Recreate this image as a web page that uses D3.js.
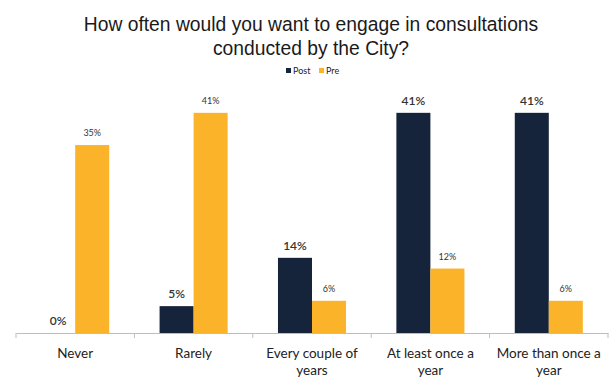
<!DOCTYPE html>
<html>
<head>
<meta charset="utf-8">
<script src="https://cdn.jsdelivr.net/npm/d3@7/dist/d3.min.js"></script>
<style>
  html, body { margin: 0; padding: 0; background: #fff; }
  svg { display: block; }
</style>
</head>
<body>
<svg id="chart" width="613" height="383"></svg>
<script>
// Survey responses: preferred frequency of engagement, before and after
const categories = [
  ["Never"],
  ["Rarely"],
  ["Every couple of", "years"],
  ["At least once a", "year"],
  ["More than once a", "year"]
];
const seriesNames = ["Post", "Pre"];
const postValues = [0, 5, 14, 41, 41];
const preValues = [35, 41, 6, 12, 6];
const colors = ["#15243b", "#fbb42a"];

const width = 613, height = 383;
const margin = { left: 16, right: 5 };
const baseY = 333;

const svg = d3.select("#chart");

const x0 = d3.scaleBand()
  .domain(d3.range(categories.length))
  .range([margin.left, width - margin.right])
  .paddingInner(0)
  .paddingOuter(0);

const x1 = d3.scaleBand()
  .domain(seriesNames)
  .range([0, x0.bandwidth()])
  .paddingInner(0)
  .paddingOuter(0.74);

const y = d3.scaleLinear()
  .domain([0, 45])
  .range([baseY, baseY - 45 * 5.37]);

const seriesValues = { Post: postValues, Pre: preValues };
const colorOf = d3.scaleOrdinal().domain(seriesNames).range(colors);

// Title
const title = svg.append("text")
  .attr("text-anchor", "middle")
  .attr("font-family", "Liberation Sans, Arial, sans-serif")
  .attr("font-size", 19.3)
  .attr("fill", "#1a1a1a");
title.append("tspan").attr("x", 311).attr("y", 31)
  .text("How often would you want to engage in consultations");
title.append("tspan").attr("x", 311).attr("y", 55)
  .text("conducted by the City?");

// Legend
const legend = svg.append("g")
  .attr("font-family", "Lato, 'Open Sans', sans-serif")
  .attr("font-size", 9)
  .attr("fill", "#222");
const legendItems = [{ name: "Post", x: 286 }, { name: "Pre", x: 319 }];
legendItems.forEach(d => {
  legend.append("rect")
    .attr("x", d.x).attr("y", 68)
    .attr("width", 5).attr("height", 5)
    .attr("fill", colorOf(d.name));
  legend.append("text")
    .attr("x", d.x + 7).attr("y", 74)
    .text(d.name);
});

// Bars
const groups = svg.append("g")
  .selectAll("g")
  .data(categories.map((c, i) => i))
  .join("g")
  .attr("transform", i => `translate(${x0(i)},0)`);

groups.selectAll("rect")
  .data(i => seriesNames.map(s => ({ s, v: seriesValues[s][i] })))
  .join("rect")
  .attr("x", d => x1(d.s))
  .attr("width", x1.bandwidth())
  .attr("y", d => y(d.v))
  .attr("height", d => baseY - y(d.v))
  .attr("fill", d => colorOf(d.s));

// Value labels
groups.selectAll("text.value")
  .data(i => seriesNames.map(s => ({ s, v: seriesValues[s][i] })))
  .join("text")
  .attr("class", "value")
  .attr("x", d => x1(d.s) + x1.bandwidth() / 2)
  .attr("y", d => y(d.v) - (d.s === "Post" ? 8 : 9))
  .attr("text-anchor", "middle")
  .attr("font-family", "Lato, 'Open Sans', sans-serif")
  .attr("font-size", d => d.s === "Post" ? 12 : 9)
  .attr("font-weight", d => d.s === "Post" ? 600 : 400)
  .attr("fill", "#333")
  .text(d => d.v + "%");

// Category axis
const axis = d3.axisBottom(x0)
  .tickSize(0)
  .tickFormat("");
const axisG = svg.append("g")
  .attr("transform", `translate(0,${baseY})`)
  .call(axis);
axisG.select(".domain").attr("stroke", "#bdbdbd").attr("stroke-width", 1);

// Boundary tick marks between categories
const bounds = d3.range(categories.length + 1).map(i =>
  i < categories.length ? x0(i) : x0(categories.length - 1) + x0.bandwidth());
axisG.selectAll("line.bound")
  .data(bounds)
  .join("line")
  .attr("class", "bound")
  .attr("x1", d => d).attr("x2", d => d)
  .attr("y1", 0).attr("y2", 5)
  .attr("stroke", "#bdbdbd");

// Category labels
const catLabels = svg.append("g")
  .selectAll("text")
  .data(categories)
  .join("text")
  .attr("text-anchor", "middle")
  .attr("font-family", "Lato, 'Open Sans', sans-serif")
  .attr("font-size", 13.5)
  .attr("fill", "#222");
catLabels.each(function (lines, i) {
  const cx = x0(i) + x0.bandwidth() / 2;
  d3.select(this).selectAll("tspan")
    .data(lines)
    .join("tspan")
    .attr("x", cx)
    .attr("y", (d, j) => 358 + j * 17)
    .text(d => d);
});
</script>
</body>
</html>
